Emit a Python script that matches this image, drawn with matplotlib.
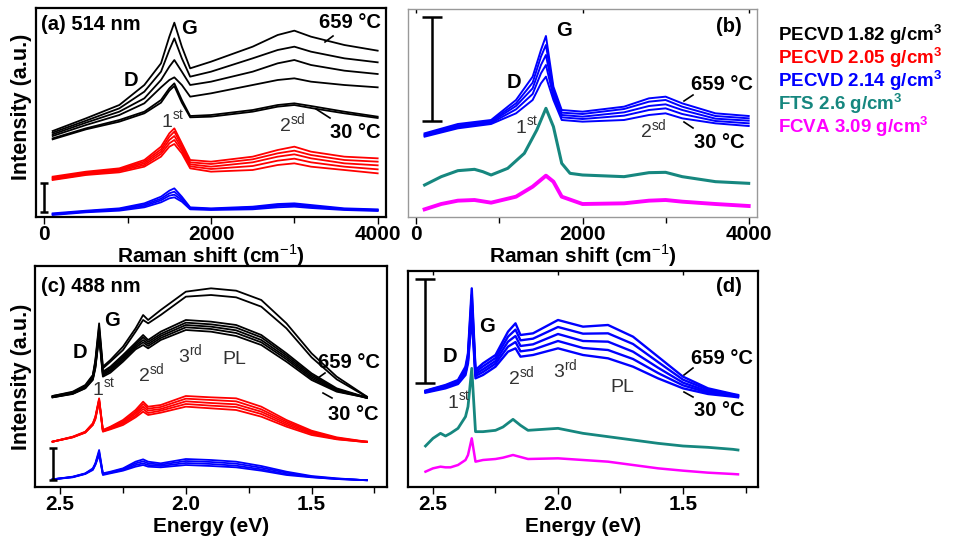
import matplotlib
matplotlib.use('Agg')
import matplotlib.pyplot as plt
from matplotlib.ticker import MultipleLocator, FormatStrFormatter

plt.rcParams['font.family'] = ['Liberation Sans', 'DejaVu Sans']
plt.rcParams['mathtext.fontset'] = 'custom'
plt.rcParams['mathtext.rm'] = 'Liberation Sans'
plt.rcParams['mathtext.bf'] = 'Liberation Sans:bold'

# ---------------- dados (intensidade em unidades arbitrarias) ----------------
# painel (a) 514 nm
raman_a = [100, 500, 900, 1200, 1400, 1500, 1560, 1650, 1750, 2000, 2500, 2800, 3000, 3200, 3600, 4000]
a_preto = [
    [258, 296, 336, 396, 461, 541, 583, 511, 446, 466, 511, 546, 559, 541, 516, 499],
    [253, 289, 326, 376, 436, 501, 536, 476, 421, 436, 476, 501, 511, 496, 476, 464],
    [248, 283, 316, 356, 411, 451, 471, 436, 396, 406, 436, 461, 471, 456, 439, 429],
    [243, 276, 306, 341, 389, 411, 419, 396, 361, 371, 396, 411, 416, 406, 396, 389],
    [236, 266, 291, 316, 351, 386, 401, 351, 303, 306, 321, 336, 341, 333, 316, 301],
    [233, 263, 286, 311, 343, 379, 393, 343, 299, 301, 316, 331, 336, 327, 311, 297],
]
a_vermelho = [
    [121, 136, 146, 171, 211, 251, 266, 221, 171, 166, 181, 201, 211, 196, 181, 176],
    [118, 133, 143, 166, 203, 241, 256, 213, 164, 159, 173, 191, 199, 186, 171, 166],
    [116, 131, 141, 161, 196, 231, 243, 206, 158, 151, 164, 181, 188, 176, 161, 155],
    [113, 128, 138, 156, 189, 221, 231, 199, 152, 144, 153, 169, 175, 164, 151, 143],
    [111, 126, 134, 151, 181, 211, 219, 191, 146, 136, 141, 156, 161, 151, 141, 131],
]
a_azul = [
    [11, 19, 26, 41, 61, 79, 86, 61, 29, 26, 31, 39, 41, 36, 26, 23],
    [9, 17, 24, 37, 55, 71, 76, 56, 27, 24, 29, 36, 38, 33, 24, 21],
    [8, 16, 22, 33, 50, 64, 67, 51, 25, 23, 26, 33, 35, 30, 23, 20],
    [6, 14, 19, 29, 44, 56, 59, 46, 23, 21, 23, 29, 31, 27, 21, 18],
]

# painel (b)
raman_b = [100, 500, 900, 1200, 1400, 1500, 1560, 1650, 1750, 2000, 2500, 2800, 3000, 3200, 3600, 4000]
b_azul = [
    [251, 279, 291, 351, 421, 501, 543, 391, 321, 316, 331, 356, 361, 341, 311, 303],
    [248, 275, 288, 341, 403, 481, 516, 381, 313, 309, 324, 346, 351, 331, 303, 296],
    [246, 272, 285, 333, 386, 456, 486, 371, 306, 301, 314, 333, 338, 321, 295, 289],
    [244, 269, 282, 323, 369, 431, 456, 361, 299, 294, 304, 321, 326, 309, 288, 281],
    [241, 266, 279, 311, 351, 401, 421, 351, 291, 286, 291, 306, 311, 296, 281, 273],
]
raman_fts = [100, 300, 500, 700, 800, 900, 1100, 1300, 1450, 1560, 1650, 1750, 1850, 2000, 2500, 2800, 3000, 3200, 3600, 4000]
b_fts = [96, 121, 139, 143, 136, 126, 146, 191, 261, 326, 271, 161, 131, 126, 121, 133, 134, 121, 106, 101]
raman_fcva = [100, 300, 500, 700, 900, 1200, 1400, 1560, 1650, 1750, 2000, 2500, 2800, 3000, 3200, 3600, 4000]
b_fcva = [23, 39, 49, 51, 43, 61, 91, 124, 106, 61, 39, 41, 49, 51, 46, 39, 33]

# painel (c) 488 nm
energia_c = [2.53, 2.45, 2.40, 2.37, 2.36, 2.345, 2.33, 2.30, 2.25, 2.20, 2.17, 2.15, 2.10, 2.00,
             1.90, 1.80, 1.70, 1.60, 1.50, 1.40, 1.30, 1.28]
c_preto = [
    [273, 286, 306, 336, 381, 491, 361, 381, 421, 476, 516, 501, 531, 586, 596, 589, 561, 491, 401, 331, 281, 271],
    [273, 284, 303, 333, 376, 481, 356, 376, 411, 466, 501, 491, 516, 571, 576, 569, 541, 476, 389, 323, 279, 271],
    [271, 283, 301, 331, 371, 471, 346, 361, 396, 433, 456, 441, 466, 501, 496, 486, 456, 401, 341, 296, 273, 269],
    [270, 282, 299, 328, 366, 466, 343, 357, 391, 428, 449, 435, 459, 493, 488, 478, 449, 395, 336, 293, 272, 268],
    [270, 281, 298, 326, 363, 461, 339, 352, 386, 423, 441, 429, 453, 486, 481, 470, 441, 389, 331, 291, 272, 268],
    [269, 280, 297, 324, 359, 456, 335, 348, 381, 418, 434, 423, 447, 479, 474, 462, 434, 383, 326, 288, 271, 267],
    [269, 279, 296, 321, 356, 451, 331, 343, 376, 413, 426, 416, 441, 471, 466, 453, 426, 376, 321, 286, 271, 267],
]
c_vermelho = [
    [136, 151, 166, 191, 211, 266, 171, 181, 201, 231, 256, 241, 246, 273, 269, 266, 241, 201, 169, 149, 138, 136],
    [136, 150, 165, 190, 209, 263, 170, 179, 197, 225, 249, 235, 240, 265, 261, 257, 233, 196, 166, 147, 137, 136],
    [136, 150, 164, 188, 207, 261, 169, 177, 193, 220, 241, 229, 234, 257, 252, 248, 226, 191, 163, 146, 137, 136],
    [136, 149, 164, 187, 205, 258, 167, 175, 190, 214, 234, 222, 229, 249, 244, 240, 219, 186, 160, 144, 136, 135],
    [136, 149, 163, 186, 203, 256, 166, 173, 186, 209, 226, 216, 223, 241, 236, 231, 211, 181, 156, 143, 136, 135],
]
c_azul = [
    [23, 31, 41, 56, 71, 111, 41, 46, 56, 76, 83, 76, 71, 84, 81, 76, 63, 46, 33, 26, 21, 21],
    [23, 30, 40, 54, 69, 106, 39, 44, 54, 71, 77, 71, 67, 78, 75, 70, 58, 43, 31, 25, 21, 21],
    [23, 30, 40, 53, 68, 101, 38, 43, 51, 66, 71, 66, 63, 72, 69, 64, 53, 39, 30, 24, 21, 20],
    [23, 29, 39, 51, 66, 96, 36, 41, 49, 61, 66, 61, 59, 66, 63, 59, 49, 36, 29, 24, 21, 20],
]

# painel (d)
energia_d = energia_c
d_azul = [
    [289, 306, 321, 361, 401, 596, 351, 371, 396, 466, 491, 456, 461, 501, 481, 486, 451, 391, 331, 296, 279, 276],
    [288, 304, 318, 355, 393, 576, 345, 362, 387, 451, 472, 440, 445, 480, 460, 461, 429, 375, 322, 292, 277, 274],
    [286, 301, 315, 349, 386, 556, 339, 353, 378, 436, 453, 423, 428, 459, 438, 436, 406, 358, 313, 287, 275, 272],
    [285, 299, 312, 343, 379, 533, 333, 345, 370, 421, 435, 407, 412, 438, 417, 411, 384, 342, 305, 283, 273, 271],
    [283, 296, 309, 336, 371, 511, 326, 336, 361, 406, 416, 391, 396, 416, 396, 386, 361, 326, 296, 279, 271, 269],
]
energia_d2 = [2.53, 2.50, 2.47, 2.45, 2.43, 2.40, 2.37, 2.36, 2.345, 2.33, 2.30, 2.25, 2.22, 2.18, 2.15,
              2.12, 2.00, 1.90, 1.80, 1.70, 1.60, 1.50, 1.40, 1.30, 1.28]
d_fts = [123, 146, 161, 153, 161, 176, 211, 241, 356, 166, 166, 170, 180, 203, 185, 170, 176, 161, 151, 141,
         131, 123, 119, 113, 111]
d_fcva = [46, 56, 61, 59, 59, 66, 81, 96, 146, 76, 81, 84, 88, 96, 90, 84, 86, 81, 76, 66, 56, 49, 43, 39, 38]

amostras = ['PECVD 1.82 g/cm$^{\\mathbf{3}}$', 'PECVD 2.05 g/cm$^{\\mathbf{3}}$', 'PECVD 2.14 g/cm$^{\\mathbf{3}}$',
            'FTS 2.6 g/cm$^{\\mathbf{3}}$', 'FCVA 3.09 g/cm$^{\\mathbf{3}}$']
cores = ['black', '#ff0000', '#0000ff', '#16877f', '#ff00ff']

W, H = 957, 537


def px(x, y):
    # pixel da imagem -> fração da figura
    return x / W, 1 - y / H


fig = plt.figure(figsize=(9.57, 5.37), dpi=100)

def eixo(l, t, r, b):
    return fig.add_axes([l / W, 1 - b / H, (r - l) / W, (b - t) / H])

ax_a = eixo(36, 8, 386, 217)
ax_b = eixo(408, 9, 757, 217)
ax_c = eixo(35, 266, 387, 487)
ax_d = eixo(408, 271, 758, 487)

# (a)
for yy in a_preto:
    ax_a.plot(raman_a, yy, color=cores[0], lw=1.3)
for yy in a_vermelho:
    ax_a.plot(raman_a, yy, color=cores[1], lw=1.3)
for yy in a_azul:
    ax_a.plot(raman_a, yy, color=cores[2], lw=1.3)
ax_a.errorbar([0], [59.5], yerr=[43.5], fmt='none', ecolor='black', elinewidth=1.8, capsize=3, capthick=1.8)
ax_a.set_ylim(0, 627)

# (b)
for yy in b_azul:
    ax_b.plot(raman_b, yy, color=cores[2], lw=1.4)
ax_b.plot(raman_fts, b_fts, color=cores[3], lw=2.2)
ax_b.plot(raman_fcva, b_fcva, color=cores[4], lw=2.8)
ax_b.errorbar([190], [445], yerr=[156], fmt='none', ecolor='black', elinewidth=1.8, capsize=7, capthick=1.8)
ax_b.set_ylim(0, 624)

# (c)
for yy in c_preto:
    ax_c.plot(energia_c, yy, color=cores[0], lw=1.3)
for yy in c_vermelho:
    ax_c.plot(energia_c, yy, color=cores[1], lw=1.3)
for yy in c_azul:
    ax_c.plot(energia_c, yy, color=cores[2], lw=1.3)
ax_c.errorbar([2.53], [68.5], yerr=[47.5], fmt='none', ecolor='black', elinewidth=1.8, capsize=3, capthick=1.8)
ax_c.set_ylim(0, 663)

# (d)
for yy in d_azul:
    ax_d.plot(energia_d, yy, color=cores[2], lw=1.7)
ax_d.plot(energia_d2, d_fts, color=cores[3], lw=2.0)
ax_d.plot(energia_d2, d_fcva, color=cores[4], lw=1.8)
ax_d.errorbar([2.532], [468], yerr=[155], fmt='none', ecolor='black', elinewidth=1.8, capsize=7, capthick=1.8)
ax_d.set_ylim(0, 648)

for ax in (ax_a, ax_b):
    ax.set_xlim(-100, 4100)
    ax.xaxis.set_major_locator(MultipleLocator(2000))
    ax.xaxis.set_minor_locator(MultipleLocator(1000))
for ax in (ax_c, ax_d):
    ax.set_xlim(2.6, 1.2)
    ax.xaxis.set_major_locator(MultipleLocator(0.5))
    ax.xaxis.set_minor_locator(MultipleLocator(0.25))
    ax.xaxis.set_major_formatter(FormatStrFormatter('%.1f'))

for ax in (ax_a, ax_b, ax_c, ax_d):
    ax.set_yticks([])
    ax.tick_params(axis='x', which='major', direction='out', length=5, width=1, labelsize=15, pad=1)
    ax.tick_params(axis='x', which='minor', direction='out', length=4, width=1)
    for lab in ax.get_xticklabels():
        lab.set_fontweight('bold')
    cor_borda = '#999999' if ax is ax_b else 'black'
    for s in ax.spines.values():
        s.set_color(cor_borda)
        s.set_linewidth(1.0 if ax is ax_b else 1.6)

# marcas internas no topo de (b) e (d)
for ax in (ax_b, ax_d):
    topo = ax.secondary_xaxis('top')
    topo.set_xticks(ax.get_xticks())
    topo.tick_params(direction='in', length=3, width=1, labelsize=0, labeltop=False)
    topo.spines['top'].set_visible(False)

# rótulos dos eixos
for xc in (211, 583):
    fig.text(*px(xc, 256), 'Raman shift (cm$^{-1}$)', ha='center', va='center', fontsize=15, fontweight='bold')
    fig.text(*px(xc, 526), 'Energy (eV)', ha='center', va='center', fontsize=15, fontweight='bold')
fig.text(*px(22, 107), 'Intensity (a.u.)', ha='center', va='center', rotation=90, fontsize=15.5, fontweight='bold')
fig.text(*px(22, 377), 'Intensity (a.u.)', ha='center', va='center', rotation=90, fontsize=15.5, fontweight='bold')

# anotações
def bold(x, y, s, ha='left'):
    fig.text(*px(x, y), s, ha=ha, va='center', fontsize=14.5, fontweight='bold')

def fino(x, y, s):
    fig.text(*px(x, y), s, ha='left', va='center', fontsize=14, color='#333333')

def traco(x0, y0, x1, y1):
    fig.add_artist(plt.Line2D([x0 / W, x1 / W], [1 - y0 / H, 1 - y1 / H], color='black', lw=1.2))

bold(41, 25, '(a) 514 nm')
bold(181, 29, 'G')
bold(124, 80, 'D')
fino(161, 121, '1$^{\\mathrm{st}}$')
fino(279, 124, '2$^{\\mathrm{sd}}$')
bold(381, 22, '659 °C', ha='right')
bold(381, 133, '30 °C', ha='right')
traco(333, 36, 325, 42)
traco(330, 118, 316, 109)

bold(742, 27, '(b)', ha='right')
bold(556, 30, 'G')
bold(507, 83, 'D')
fino(515, 127, '1$^{\\mathrm{st}}$')
fino(640, 130, '2$^{\\mathrm{sd}}$')
bold(753, 84, '659 °C', ha='right')
bold(745, 143, '30 °C', ha='right')
traco(693, 95, 684, 101)
traco(693, 128, 684, 122)

bold(41, 287, '(c) 488 nm')
bold(104, 320, 'G')
bold(73, 352, 'D')
fino(92, 389, '1$^{\\mathrm{st}}$')
fino(138, 374, '2$^{\\mathrm{sd}}$')
fino(178, 355, '3$^{\\mathrm{rd}}$')
fino(222, 360, 'PL')
bold(380, 362, '659 °C', ha='right')
bold(378, 415, '30 °C', ha='right')
traco(325, 373, 318, 378)
traco(332, 398, 323, 393)

bold(742, 287, '(d)', ha='right')
bold(479, 326, 'G')
bold(443, 357, 'D')
fino(447, 402, '1$^{\\mathrm{st}}$')
fino(508, 377, '2$^{\\mathrm{sd}}$')
fino(553, 370, '3$^{\\mathrm{rd}}$')
fino(610, 387, 'PL')
bold(753, 358, '659 °C', ha='right')
bold(745, 411, '30 °C', ha='right')
traco(693, 368, 684, 375)
traco(693, 397, 684, 392)

# legenda de amostras
for i, (nome, cor) in enumerate(zip(amostras, cores)):
    fig.text(*px(778, 35 + 23 * i), nome, ha='left', va='center', fontsize=13.5, fontweight='bold', color=cor)

plt.savefig('out.png', dpi=100)
